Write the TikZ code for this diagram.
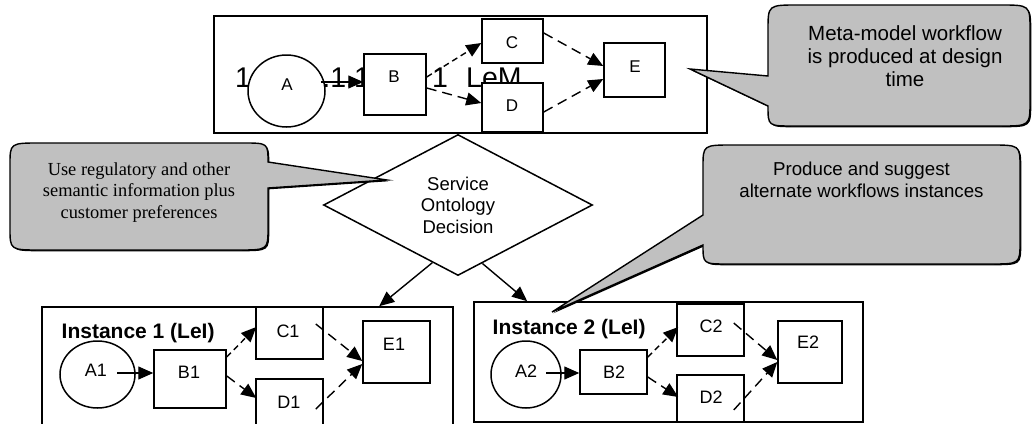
\documentclass[tikz,border=0pt]{standalone}
\usepackage{fontspec}
\setmainfont{Liberation Sans}
\newfontfamily\timesfont{Liberation Serif}
\usetikzlibrary{shapes.geometric,arrows.meta,calc}
\definecolor{bubblegray}{HTML}{C0C0C0}
\tikzset{
  frame/.style={draw, rectangle, line width=1.6pt, fill=white, inner sep=0},
  stepbox/.style={draw, rectangle, line width=1.5pt, fill=white, inner sep=0},
  oval/.style={draw, ellipse, line width=1.5pt, fill=white, inner sep=0},
  tag/.style={font=\fontsize{17}{20}\selectfont, inner sep=0, anchor=base},
  itag/.style={font=\fontsize{18}{21}\selectfont, inner sep=0, anchor=base},
  title/.style={font=\bfseries\fontsize{21}{24}\selectfont, inner sep=0, anchor=base west},
  bignum/.style={font=\fontsize{28.5}{30}\selectfont, inner sep=0, anchor=base west},
  flow/.style={line width=1.4pt, -{Triangle[length=15pt,width=13pt]}},
  dflow/.style={flow, dash pattern=on 10pt off 6pt},
  fdflow/.style={flow, dash pattern=on 6pt off 4pt},
  bubble/.style={fill=bubblegray, draw=black, line width=1.4pt,
    preaction={fill=black, transform canvas={shift={(1.3pt,-1.3pt)}}}},
  note/.style={align=center, anchor=north, inner sep=0}
}
\begin{document}
\begin{tikzpicture}[x=1pt, y=-1pt]
\useasboundingbox (0,0) rectangle (1032,423);
\clip (0,0) rectangle (1032,423);

% ---- meta-model workflow (design time) ----
\node[frame, minimum width=493pt, minimum height=117pt] (top) at (460.5,74.5) {};
\node[bignum] (num) at (235,87) {1.1.1.1.1.1};
\node[bignum] (num2) at (432,87) {1};
\node[bignum] (lem) at (466,87) {LeM};

\node[oval, minimum width=77pt, minimum height=72pt] (A) at (286.5,91) {};
\node[stepbox, minimum width=62pt, minimum height=61pt] (B) at (395,84.5) {};
\node[stepbox, minimum width=61pt, minimum height=44pt] (C) at (512.5,41) {};
\node[stepbox, minimum width=61pt, minimum height=49pt] (D) at (512.5,107.5) {};
\node[stepbox, minimum width=61pt, minimum height=54pt] (E) at (634.5,70) {};
\node[tag] (tA) at (287,90) {A};
\node[tag] (tB) at (394,82) {B};
\node[tag] (tC) at (512,48) {C};
\node[tag] (tD) at (512,111) {D};
\node[tag] (tE) at (635,72) {E};

\draw[flow] ($(A.east)+(-5,-9)$) -- ($(B.west)+(0,-2.5)$);
\draw[fdflow] ($(B.east)+(0,-7.5)$) -- ($(C.west)+(0,2)$);
\draw[dflow] ($(B.east)+(0,3.5)$) -- ($(D.west)+(0,-4.5)$);
\draw[dflow] ($(C.east)+(0,-8)$) -- ($(E.west)+(0,-4)$);
\draw[dflow] ($(D.east)+(0,4.5)$) -- ($(E.west)+(0,9)$);

% ---- decision ----
\node[draw, diamond, aspect=2, inner sep=0, minimum width=269pt, minimum height=141pt,
      line width=1.5pt, fill=white, align=center, font=\fontsize{18.5}{21.5}\selectfont]
      (dec) at (458,205) {Service\\Ontology\\Decision};

% ---- instance 1 ----
\node[frame, minimum width=411pt, minimum height=133pt] (in1) at (247.5,373.5) {};
\node[title] (t1) at (61.5,338) {Instance 1 (LeI)};
\node[oval, minimum width=75pt, minimum height=67pt] (A1) at (97.5,374.5) {};
\node[stepbox, minimum width=72pt, minimum height=58pt] (B1) at (190,379) {};
\node[stepbox, minimum width=67pt, minimum height=52pt] (C1) at (289.5,333) {};
\node[stepbox, minimum width=67pt, minimum height=61pt] (D1) at (289.5,409.5) {};
\node[stepbox, minimum width=67pt, minimum height=62pt] (E1) at (396.5,352) {};
\node[itag] (tA1) at (96,376) {A1};
\node[itag] (tB1) at (189,378) {B1};
\node[itag] (tC1) at (288,337) {C1};
\node[itag] (tD1) at (289,408) {D1};
\node[itag] (tE1) at (394,350) {E1};

\draw[flow] ($(A1.center)+(19.5,-1.5)$) -- ($(B1.west)+(0,-6)$);
\draw[fdflow] ($(B1.east)+(0,-22)$) -- ($(C1.west)+(1,-6)$);
\draw[dflow] ($(B1.east)+(0,-3)$) -- ($(D1.west)+(1,-11.5)$);
\draw[dflow] ($(C1.east)+(-8,-9)$) -- ($(E1.west)+(0,9)$);
\draw[dflow] ($(D1.east)+(-8,-0.5)$) -- ($(E1.west)+(0,12)$);

% ---- instance 2 ----
\node[frame, minimum width=389pt, minimum height=120pt] (in2) at (668.5,362) {};
\node[title] (t2) at (492.5,334) {Instance 2 (LeI)};
\node[oval, minimum width=70pt, minimum height=67pt] (A2) at (526,374.5) {};
\node[stepbox, minimum width=67pt, minimum height=44pt] (B2) at (613.5,372) {};
\node[stepbox, minimum width=67pt, minimum height=52pt] (C2) at (710.5,330) {};
\node[stepbox, minimum width=67pt, minimum height=47pt] (D2) at (710.5,398.5) {};
\node[stepbox, minimum width=64pt, minimum height=62pt] (E2) at (810,352) {};
\node[itag] (tA2) at (526,377) {A2};
\node[itag] (tB2) at (614,378) {B2};
\node[itag] (tC2) at (711,332) {C2};
\node[itag] (tD2) at (711,403) {D2};
\node[itag] (tE2) at (808,348) {E2};

\draw[flow] ($(A2.center)+(20,-1.5)$) -- ($(B2.west)+(0,1)$);
\draw[fdflow] ($(B2.east)+(0,-15)$) -- ($(C2.west)+(2,-3)$);
\draw[dflow] ($(B2.east)+(0,5)$) -- ($(D2.west)+(2,-1.5)$);
\draw[dflow] ($(C2.east)+(-11,-7)$) -- ($(E2.west)+(0,8)$);
\draw[dflow] ($(D2.east)+(-11,11.5)$) -- ($(E2.west)+(0,10)$);

% ---- decision outputs ----
\draw[flow] ($(dec.south)!0.19!(dec.west)$) -- ($(in1.north west)+(338,0)$);
\draw[flow] ($(dec.south)!0.18!(dec.east)$) -- ($(in2.north west)+(54,0)$);

% ---- speech bubbles ----
\path[bubble] (768,76) -- (768,30) .. controls (768,5) .. (798,5) -- (1000,5)
  .. controls (1030,5) .. (1030,30) -- (1030,101) .. controls (1030,126) .. (1000,126)
  -- (793,126) .. controls (768,126) .. (768,106) -- (690,69) -- cycle;
\node[note, font=\fontsize{20.5}{23}\selectfont] (meta) at (905,25.5)
  {Meta-model workflow\\is produced at design\\time};

\path[bubble] (268,188) -- (268,228) .. controls (268,250) .. (238,250) -- (40,250)
  .. controls (10,250) .. (10,228) -- (10,165) .. controls (10,143) .. (40,143)
  -- (243,143) .. controls (268,143) .. (268,162) -- (387,180) -- cycle;
\node[note, font=\timesfont\fontsize{18.4}{21.5}\selectfont] (regs) at (139,162.4)
  {Use regulatory and other\\semantic information plus\\customer preferences};

\path[bubble] (703,215) -- (703,167) .. controls (703,145) .. (733,145) -- (990,145)
  .. controls (1020,145) .. (1020,167) -- (1020,242) .. controls (1020,264) .. (990,264)
  -- (728,264) .. controls (703,264) .. (703,245) -- (552,312) -- cycle;
\node[note, font=\fontsize{18.7}{22}\selectfont] (alt) at (861.5,161.6)
  {Produce and suggest\\alternate workflows instances};
\end{tikzpicture}
\end{document}
